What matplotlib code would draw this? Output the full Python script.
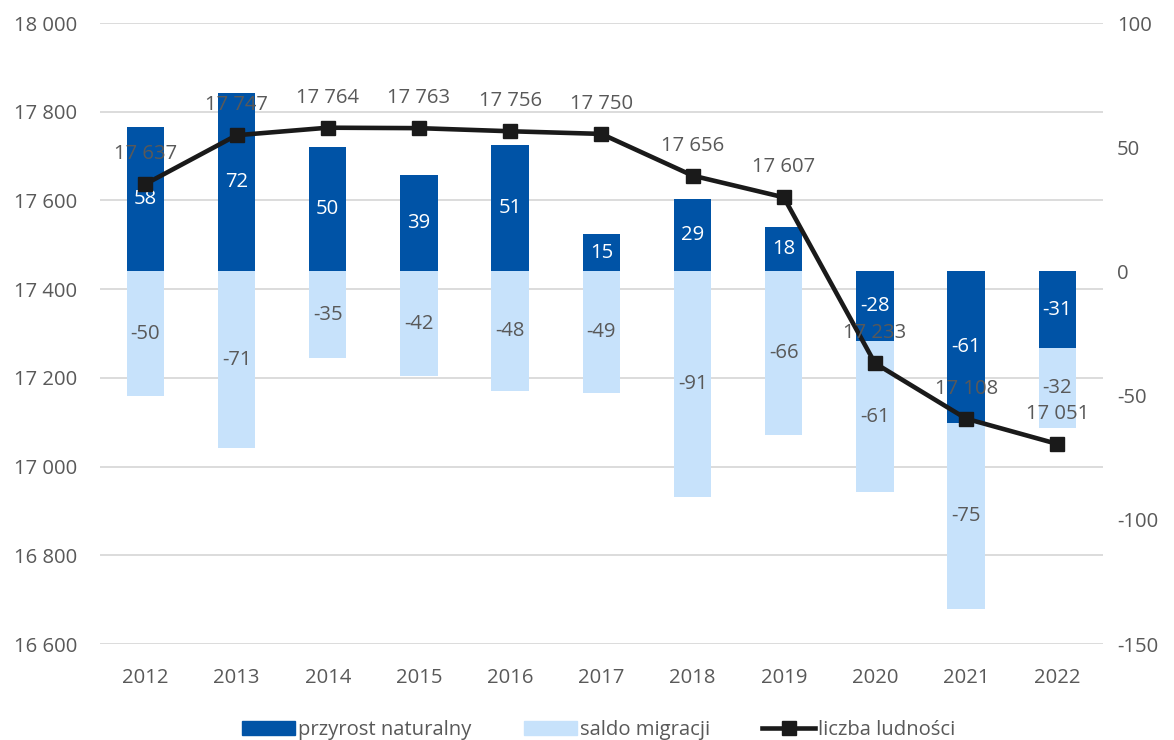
import matplotlib.pyplot as plt
import matplotlib.transforms as mtransforms
from matplotlib.patches import Patch
from matplotlib.lines import Line2D
import numpy as np

plt.rcParams['font.family'] = ['Open Sans', 'DejaVu Sans']
plt.rcParams['axes.unicode_minus'] = False

years = ["2012", "2013", "2014", "2015", "2016", "2017", "2018", "2019", "2020", "2021", "2022"]
przyrost = np.array([58, 72, 50, 39, 51, 15, 29, 18, -28, -61, -31])
saldo = np.array([-50, -71, -35, -42, -48, -49, -91, -66, -61, -75, -32])
ludnosc = np.array([17637, 17747, 17764, 17763, 17756, 17750, 17656, 17607, 17233, 17108, 17051])

dark = "#0053A6"
light = "#C7E2FB"
gray = "#595959"
fs = 14.6


def fmt_space(v):
    return f"{int(v):,}".replace(",", " ")


fig = plt.figure(figsize=(11.74, 7.40), dpi=100)
ax = fig.add_axes([0.085, 0.1297, 0.8545, 0.8392])   # line, left axis
ax2 = ax.twinx()                                      # bars, right axis
ax.set_zorder(2)
ax.patch.set_visible(False)

x = np.arange(len(years))

# stacked bars: negatives stack below negatives, positives from zero
saldo_bottom = np.where((przyrost < 0) & (saldo < 0), przyrost, 0)
b1 = ax2.bar(x, przyrost, width=0.41, color=dark, zorder=2)
b2 = ax2.bar(x, saldo, bottom=saldo_bottom, width=0.41, color=light, zorder=2)
ax2.bar_label(b1, labels=[str(v) for v in przyrost], label_type="center",
              color="white", fontsize=fs)
ax2.bar_label(b2, labels=[str(v) for v in saldo], label_type="center",
              color=gray, fontsize=fs)

ax2.set_ylim(-150, 100)
ax2.set_yticks(np.arange(-150, 101, 50))

ax.set_ylim(16600, 18000)
left_ticks = np.arange(16600, 18001, 200)
ax.set_yticks(left_ticks)
ax.set_yticklabels([fmt_space(v) for v in left_ticks])

# gridlines belong to the left axis but sit under the bars
tr = mtransforms.blended_transform_factory(ax2.transAxes, ax.transData)
for v in left_ticks:
    ax2.plot([0, 1], [v, v], transform=tr, color="#D9D9D9", lw=1.3, zorder=0)

ax.plot(x, ludnosc, color="#1A1A1A", lw=3.3, marker="s", markersize=10, zorder=3)
for xi, v in zip(x, ludnosc):
    ax.annotate(fmt_space(v), (xi, v), xytext=(0, 21.5), textcoords="offset points",
                ha="center", va="center", color=gray, fontsize=fs)

ax.set_xlim(-0.5, len(years) - 0.5)
ax.set_xticks(x)
ax.set_xticklabels(years)

for a in (ax, ax2):
    for s in a.spines.values():
        s.set_visible(False)
    a.tick_params(length=0, labelsize=fs, labelcolor=gray)
ax.tick_params(axis="x", pad=17)
ax.tick_params(axis="y", pad=16)
ax2.tick_params(axis="y", pad=10)

handles = [Patch(color=dark), Patch(color=light),
           Line2D([0], [0], color="#1A1A1A", lw=3.3, marker="s", markersize=10)]
fig.legend(handles, ["przyrost naturalny", "saldo migracji", "liczba ludności"],
           loc="lower center", bbox_to_anchor=(0.51, -0.025), ncol=3, frameon=False,
           fontsize=fs, labelcolor=gray, handlelength=2.6, handleheight=0.7,
           handletextpad=0.15, columnspacing=2.6)

fig.savefig("out.png", dpi=100)
